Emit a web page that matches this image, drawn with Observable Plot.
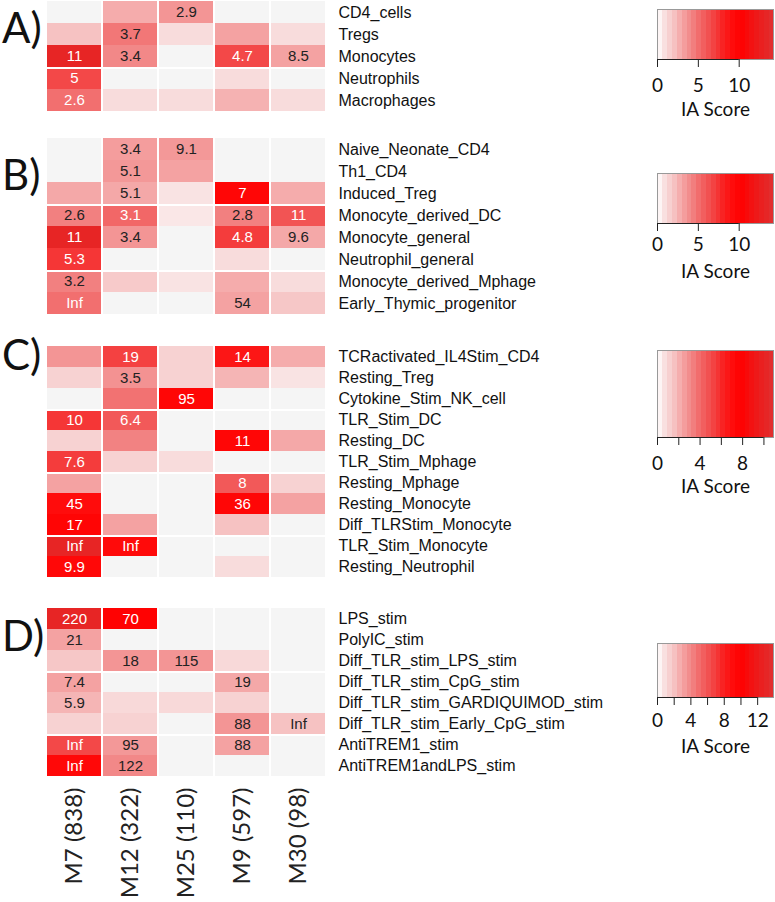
<!DOCTYPE html>
<html><head><meta charset="utf-8">
<script src="https://cdn.jsdelivr.net/npm/d3@7"></script>
<script src="https://cdn.jsdelivr.net/npm/@observablehq/plot@0.6"></script>
<style>
body{margin:0;background:#fff}
#fig{position:relative;width:775px;height:902px;overflow:hidden}
#fig > *{position:absolute}
.letter{font-family:Lato,sans-serif;font-size:42px;line-height:1;color:#111;left:2px}
</style></head><body><div id="fig"></div>
<script>
const modules = ["M7 (838)","M12 (322)","M25 (110)","M9 (597)","M30 (98)"];

const rowsA = ["CD4_cells","Tregs","Monocytes","Neutrophils","Macrophages"];
const scoresA = [
 [0, 2.7, 3.5, 0, 0],
 [2, 4.6, 1, 3, 1],
 [13, 4, 0, 6.5, 3],
 [6.5, 0, 0, 1, 0],
 [4.9, 1, 1, 2.5, 1]
];
const valuesA = [
 ["", "", "2.9", "", ""],
 ["", "3.7", "", "", ""],
 ["11", "3.4", "", "4.7", "8.5"],
 ["5", "", "", "", ""],
 ["2.6", "", "", "", ""]
];

const rowsB = ["Naive_Neonate_CD4","Th1_CD4","Induced_Treg","Monocyte_derived_DC","Monocyte_general","Neutrophil_general","Monocyte_derived_Mphage","Early_Thymic_progenitor"];
const scoresB = [
 [0, 3.2, 3.4, 0, 0],
 [0, 3.4, 3, 0, 0],
 [2.8, 2.8, 0.8, 9.5, 2.7],
 [4.3, 5.2, 0.7, 4.3, 6],
 [13, 3.5, 0, 7, 2.8],
 [7.2, 0, 0, 1, 0],
 [4.3, 1.7, 0.8, 2.7, 1],
 [4.9, 0, 0, 3, 1.8]
];
const valuesB = [
 ["", "3.4", "9.1", "", ""],
 ["", "5.1", "", "", ""],
 ["", "5.1", "", "7", ""],
 ["2.6", "3.1", "", "2.8", "11"],
 ["11", "3.4", "", "4.8", "9.6"],
 ["5.3", "", "", "", ""],
 ["3.2", "", "", "", ""],
 ["Inf", "", "", "54", ""]
];

const rowsC = ["TCRactivated_IL4Stim_CD4","Resting_Treg","Cytokine_Stim_NK_cell","TLR_Stim_DC","Resting_DC","TLR_Stim_Mphage","Resting_Mphage","Resting_Monocyte","Diff_TLRStim_Monocyte","TLR_Stim_Monocyte","Resting_Neutrophil"];
const scoresC = [
 [3.5, 6.8, 1.4, 8.5, 2.7],
 [1.4, 3.6, 1.4, 2.4, 0.8],
 [0, 4.8, 9.5, 0, 0],
 [7.2, 5.8, 0, 0, 0],
 [1.4, 4.2, 0, 9.5, 2.8],
 [7, 1.4, 1, 0, 0],
 [3, 0, 0, 5.8, 1.4],
 [9, 0, 0, 9.5, 3],
 [9.6, 3, 0, 2, 0],
 [13, 9.2, 0, 0, 0],
 [9.3, 0, 0, 1, 0]
];
const valuesC = [
 ["", "19", "", "14", ""],
 ["", "3.5", "", "", ""],
 ["", "", "95", "", ""],
 ["10", "6.4", "", "", ""],
 ["", "", "", "11", ""],
 ["7.6", "", "", "", ""],
 ["", "", "", "8", ""],
 ["45", "", "", "36", ""],
 ["17", "", "", "", ""],
 ["Inf", "Inf", "", "", ""],
 ["9.9", "", "", "", ""]
];

const rowsD = ["LPS_stim","PolyIC_stim","Diff_TLR_stim_LPS_stim","Diff_TLR_stim_CpG_stim","Diff_TLR_stim_GARDIQUIMOD_stim","Diff_TLR_stim_Early_CpG_stim","AntiTREM1_stim","AntiTREM1andLPS_stim"];
const scoresD = [
 [13, 9.8, 0, 0, 0],
 [3, 0, 0, 0, 0],
 [1.8, 3.5, 3.5, 1.1, 0],
 [3, 0, 0, 2.8, 0],
 [2.4, 1.1, 1.1, 1.4, 0],
 [1.4, 1.4, 0, 3.5, 2],
 [6.5, 3.4, 0, 3, 0],
 [9.3, 4, 0, 0, 0]
];
const valuesD = [
 ["220", "70", "", "", ""],
 ["21", "", "", "", ""],
 ["", "18", "115", "", ""],
 ["7.4", "", "", "19", ""],
 ["5.9", "", "", "", ""],
 ["", "", "", "88", "Inf"],
 ["Inf", "95", "", "88", ""],
 ["Inf", "122", "", "", ""]
];

// legend scales (max of each IA score bar, tick values, labelled ticks)
const legendMax = [14.2, 14.2, 10.9, 13.9];
const legendTicks = [[0,5,10],[0,5,10],[0,2,4,6,8,10],[0,2,4,6,8,10,12]];
const legendLabels = [[0,5,10],[0,5,10],[0,4,8],[0,4,8,12]];

// colour ramp of the IA score
const stops = [0, 1, 2, 3, 4, 5, 6, 7, 8, 9, 10, 12, 14];
const stopColors = ["#ffffff","#f8dcdc","#f6c2c2","#f4a2a2","#f28888","#f26c6c","#f25454","#f43c3c","#f82020","#ff0c0c","#ff0000","#ee1a1a","#e03030"];

const FONT = "'Liberation Sans', Arial, sans-serif";

function panel(rows, scores, values, height, withAxis) {
  const data = [];
  rows.forEach((r, i) => modules.forEach((m, j) => data.push({row: r, ri: i, col: m, score: scores[i][j], label: values[i][j]})));
  const gs = d => d.ri > 0 && d.ri % 3 === 0;
  const co = {x: "col", y: "row", insetLeft: 1, insetRight: 1};
  const mb = withAxis ? 126 : 0;
  return Plot.plot({
    width: 640, height: height + mb,
    marginLeft: 45, marginRight: 640 - 326, marginTop: 0, marginBottom: mb,
    x: {domain: modules, padding: 0},
    y: {domain: rows, padding: 0},
    color: {type: "linear", domain: stops, range: stopColors, interpolate: "rgb"},
    style: {fontFamily: FONT, background: "transparent"},
    marks: [
      Plot.cell(data.filter(d => !gs(d)), {...co, fill: "#f5f5f5"}),
      Plot.cell(data.filter(gs), {...co, insetTop: 2, fill: "#f5f5f5"}),
      Plot.cell(data.filter(d => !gs(d) && d.score > 0), {...co, fill: "score"}),
      Plot.cell(data.filter(d => gs(d) && d.score > 0), {...co, insetTop: 2, fill: "score"}),
      Plot.text(data.filter(d => d.label), {x: "col", y: "row", text: "label", fill: d => d.score > 4.75 ? "#ffffff" : "#222222", fontSize: 15}),
      Plot.axisY({anchor: "right", tickSize: 0, tickPadding: 12, fontSize: 16, label: null, fill: "#111"}),
      withAxis
        ? Plot.axisX({anchor: "bottom", tickSize: 0, tickPadding: 11, tickRotate: -90, fontSize: 24, fontFamily: "Lato, sans-serif", label: null, fill: "#222"})
        : Plot.axisX({anchor: "bottom", tickSize: 0, label: null, tickFormat: () => ""})
    ]
  });
}

function legend(k, boxH, tickPad, labelDy) {
  const max = legendMax[k], ticks = legendTicks[k], labels = legendLabels[k];
  const boxW = 116;
  return Plot.plot({
    width: 140, height: boxH + 72,
    marginLeft: 12, marginRight: 140 - 12 - boxW, marginTop: 1, marginBottom: 71,
    x: {domain: [0, max]},
    y: {domain: [0, 1], axis: null},
    color: {type: "linear", domain: stops.map(s => s * max / 14), range: stopColors, interpolate: "rgb"},
    style: {fontFamily: "Lato, sans-serif", background: "transparent"},
    marks: [
      Plot.raster({fill: (x, y) => x, x1: 0, x2: max, y1: 0, y2: 1, width: 24, height: 1, imageRendering: "pixelated"}),
      Plot.frame({stroke: "#999"}),
      Plot.ruleY([0], {x1: 0, x2: ticks[ticks.length - 1], stroke: "#222"}),
      Plot.axisX({ticks, tickSize: 8, tickPadding: tickPad, tickFormat: d => labels.includes(d) ? String(d) : "", fontSize: 19, label: null, stroke: "#222", fill: "#111"}),
      Plot.text(["IA Score"], {frameAnchor: "bottom", dy: labelDy, fontSize: 19, fill: "#111"})
    ]
  });
}

const fig = document.getElementById("fig");
function place(el, left, top) { el.style.left = left + "px"; el.style.top = top + "px"; fig.appendChild(el); }

place(panel(rowsA, scoresA, valuesA, 111, false), 0, 0);
place(panel(rowsB, scoresB, valuesB, 179, false), 0, 136);
place(panel(rowsC, scoresC, valuesC, 241, false), 0, 341);
place(panel(rowsD, scoresD, valuesD, 169, true), 0, 607);

place(legend(0, 50, 11, 56), 645, 8);
place(legend(1, 50, 6, 54), 645, 172);
place(legend(2, 87, 11, 55), 645, 349);
place(legend(3, 54, 8, 55), 645, 642);

[["A)", 6], ["B)", 153], ["C)", 333], ["D)", 614]].forEach(([t, top]) => {
  const d = document.createElement("div");
  d.className = "letter";
  d.textContent = t;
  place(d, 2, top);
});
</script>
</body></html>
